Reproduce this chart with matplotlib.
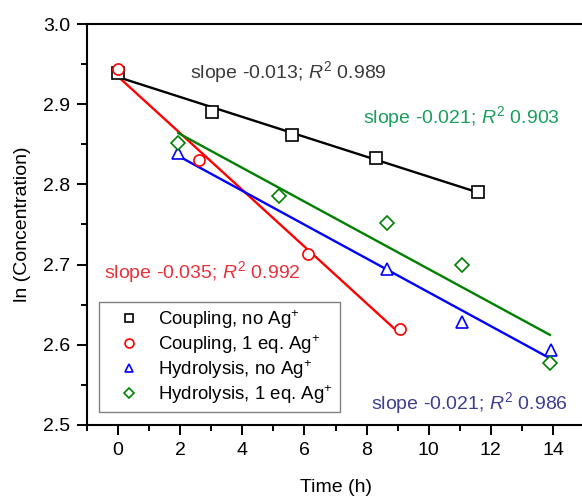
import numpy as np
import matplotlib
matplotlib.use("Agg")
import matplotlib.pyplot as plt

plt.rcParams['font.family'] = ['Liberation Sans', 'DejaVu Sans']
plt.rcParams['mathtext.fontset'] = 'custom'
plt.rcParams['mathtext.rm'] = 'Liberation Sans'
plt.rcParams['mathtext.it'] = 'Liberation Sans:italic'

# data
x_coup_no = [0.0, 3.02, 5.61, 8.29, 11.6]
y_coup_no = [2.939, 2.890, 2.862, 2.833, 2.791]

x_coup_ag = [0.0, 2.61, 6.13, 9.08]
y_coup_ag = [2.944, 2.831, 2.713, 2.620]

x_hyd_no = [1.92, 8.67, 11.06, 13.93]
y_hyd_no = [2.839, 2.694, 2.629, 2.593]

x_hyd_ag = [1.94, 5.19, 8.67, 11.08, 13.9]
y_hyd_ag = [2.852, 2.785, 2.752, 2.700, 2.577]

labels = ['Coupling, no Ag$^{+}$', 'Coupling, 1 eq. Ag$^{+}$',
          'Hydrolysis, no Ag$^{+}$', 'Hydrolysis, 1 eq. Ag$^{+}$']
fit_texts = ['slope -0.013; $R^2$ 0.989', 'slope -0.035; $R^2$ 0.992',
             'slope -0.021; $R^2$ 0.986', 'slope -0.021; $R^2$ 0.903']

series = [(x_coup_no, y_coup_no, 's', 'black', '#3a3a3a', (2.3, 2.940)),
          (x_coup_ag, y_coup_ag, 'o', 'red', '#e8313b', (-0.45, 2.691)),
          (x_hyd_no, y_hyd_no, '^', 'blue', '#3e3e92', (8.15, 2.527)),
          (x_hyd_ag, y_hyd_ag, 'D', 'green', '#1a9e5c', (7.87, 2.884))]

fig = plt.figure(figsize=(5.82, 4.98), dpi=100)
ax = fig.add_axes([0.1495, 0.1466, 0.854, 0.8052])

# fit lines first so markers sit on top
for xs, ys, m, c, tc, pos in series:
    k, b = np.polyfit(xs, ys, 1)
    xx = np.array([min(xs), max(xs)])
    ax.plot(xx, k * xx + b, color=c, lw=1.7, zorder=2)

handles = []
for (xs, ys, m, c, tc, pos), lab, txt in zip(series, labels, fit_texts):
    ms = 8 if m != 'D' else 7
    h, = ax.plot(xs, ys, ls='none', marker=m, ms=ms, mfc='white', mec=c,
                 mew=1.2, zorder=3, label=lab)
    handles.append(h)
    ax.text(pos[0], pos[1], txt, color=tc, fontsize=14, ha='left', va='center')

ax.set_xlim(-1, 15)
ax.set_ylim(2.5, 3.0)
ax.set_xticks(np.arange(0, 15, 2))
ax.set_xticks(np.arange(-1, 15, 2), minor=True)
ax.set_yticks(np.arange(2.5, 3.01, 0.1))
ax.set_yticks(np.arange(2.55, 3.0, 0.1), minor=True)
ax.yaxis.set_major_formatter(matplotlib.ticker.FormatStrFormatter('%.1f'))

ax.tick_params(which='major', direction='out', length=7, width=1.4,
               labelsize=14, pad=5)
ax.tick_params(which='minor', direction='out', length=4, width=1.4)
ax.tick_params(top=False, right=False)
for s in ['left', 'bottom', 'top']:
    ax.spines[s].set_linewidth(1.5)
ax.spines['right'].set_visible(False)

ax.set_xlabel('Time (h)', fontsize=14, labelpad=15)
ax.set_ylabel('ln (Concentration)', fontsize=14, labelpad=9)

leg = ax.legend(handles=handles, loc='lower left', bbox_to_anchor=(0.024, 0.032),
                borderaxespad=0, fontsize=13.4, fancybox=False, framealpha=1,
                edgecolor='#808080', handlelength=2.5, handletextpad=0.35,
                labelspacing=0.12, markerscale=0.8, borderpad=0.35)
leg.get_frame().set_linewidth(1.0)

fig.savefig('out.png', dpi=100)
